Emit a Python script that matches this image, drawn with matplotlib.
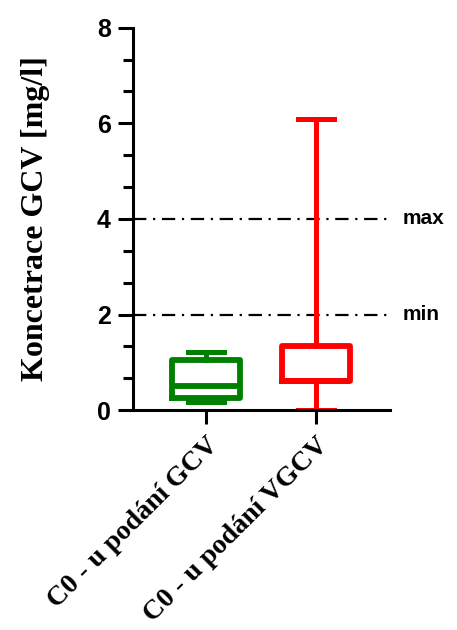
import matplotlib.pyplot as plt
from matplotlib.ticker import MultipleLocator

groups = ['C0 - u podání GCV', 'C0 - u podání VGCV']
colors = ['#008000', '#ff0000']
whisker_low = [0.17, 0.0]
q1 = [0.25, 0.6]
median = [0.5, 0.61]
q3 = [1.05, 1.35]
whisker_high = [1.22, 6.08]
limit_values = [4, 2]
limit_labels = ['max', 'min']

fig = plt.figure(figsize=(4.57, 6.3), dpi=100)
ax = fig.add_axes([0.291, 0.349, 0.562, 0.607])

for i in range(len(groups)):
    stats = [{'whislo': whisker_low[i], 'q1': q1[i], 'med': median[i],
              'q3': q3[i], 'whishi': whisker_high[i]}]
    c = colors[i]
    ax.bxp(stats, positions=[i + 1], widths=0.62, showfliers=False,
           capwidths=0.33, patch_artist=False,
           boxprops=dict(color=c, linewidth=4.2),
           whiskerprops=dict(color=c, linewidth=3.6),
           capprops=dict(color=c, linewidth=3.6),
           medianprops=dict(color=c, linewidth=4.2))

for v, lab in zip(limit_values, limit_labels):
    ax.axhline(v, color='black', linewidth=1.6, linestyle=(0, (6, 3, 1, 3)), zorder=0)
    ax.text(2.79, v, lab, ha='left', va='center', fontsize=15, fontweight='bold',
            family='Liberation Sans', clip_on=False)

ax.set_xlim(0.336, 2.672)
ax.set_ylim(0, 8)
ax.yaxis.set_major_locator(MultipleLocator(2))
ax.yaxis.set_minor_locator(MultipleLocator(2 / 3))
ax.spines['top'].set_visible(False)
ax.spines['right'].set_visible(False)
ax.spines['left'].set_linewidth(2.2)
ax.spines['bottom'].set_linewidth(2.2)
ax.tick_params(axis='y', which='major', length=11, width=2.2, pad=5)
ax.tick_params(axis='y', which='minor', length=7, width=2.2)
ax.tick_params(axis='x', length=10, width=2.2, pad=6)

ax.set_xticks([1, 2])
ax.set_xticklabels(groups, rotation=45, ha='right', rotation_mode='anchor',
                   family='Liberation Serif', fontweight='bold', fontsize=20)
for t in ax.get_yticklabels():
    t.set_family('Liberation Sans')
    t.set_fontweight('bold')
    t.set_fontsize(18)
ax.set_ylabel('Koncetrace GCV [mg/l]', family='Liberation Serif', fontweight='bold',
              fontsize=23, labelpad=34)

fig.savefig('out.png', dpi=100)
